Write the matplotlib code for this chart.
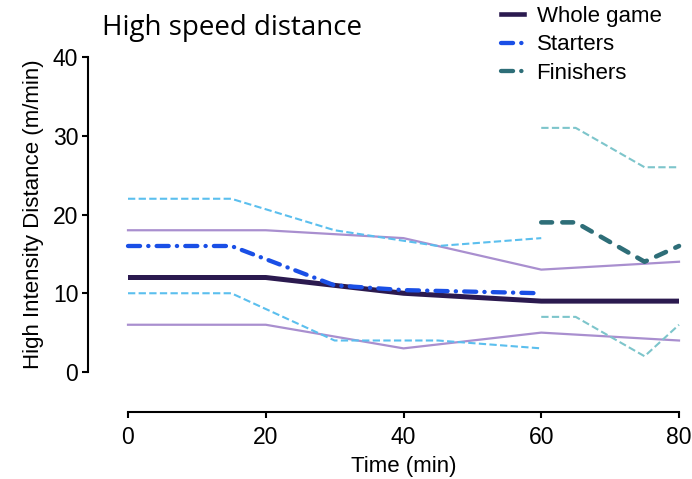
import numpy as np
import matplotlib.pyplot as plt
from matplotlib.lines import Line2D

plt.rcParams['font.family'] = ['Liberation Sans', 'DejaVu Sans']

# whole game mean and +/- sd
whole_t = [0, 20, 40, 60, 80]
whole_mean = [12, 12, 10, 9, 9]
whole_hi = [18, 18, 17, 13, 14]
whole_lo = [6, 6, 3, 5, 4]

# starters
start_t = [0, 15, 30, 40, 60]
start_mean = [16, 16, 11, 10.4, 10]
start_sd_t = [0, 15, 30, 45, 60]
start_hi = [22, 22, 18, 16, 17]
start_lo = [10, 10, 4, 4, 3]

# finishers
fin_t = [60, 65, 75, 80]
fin_mean = [19, 19, 14, 16]
fin_hi = [31, 31, 26, 26]
fin_lo = [7, 7, 2, 6]

c_whole = '#2b1a4f'
c_whole_sd = '#a98fcf'
c_start = '#1a4fe6'
c_start_sd = '#5bbfee'
c_fin = '#2e6e78'
c_fin_sd = '#7dc5cb'

dashdot = (2.8, 1.9, 0.05, 1.9)

fig = plt.figure(figsize=(6.92, 4.79), dpi=100)
ax = fig.add_axes([128/692, 1-372/479, 551/692, 315/479])

ax.plot(whole_t, whole_hi, color=c_whole_sd, lw=1.6, clip_on=False)
ax.plot(whole_t, whole_lo, color=c_whole_sd, lw=1.6, clip_on=False)
ax.plot(start_sd_t, start_hi, color=c_start_sd, lw=1.5, dashes=(3.5, 1.6), clip_on=False)
ax.plot(start_sd_t, start_lo, color=c_start_sd, lw=1.5, dashes=(3.5, 1.6), clip_on=False)
ax.plot(fin_t, fin_hi, color=c_fin_sd, lw=1.5, dashes=(3.5, 1.6), clip_on=False)
ax.plot(fin_t, fin_lo, color=c_fin_sd, lw=1.5, dashes=(3.5, 1.6), clip_on=False)

ax.plot(whole_t, whole_mean, color=c_whole, lw=3.6, clip_on=False, solid_capstyle='butt')
ax.plot(start_t, start_mean, color=c_start, lw=3.1, dashes=dashdot,
        dash_capstyle='round', clip_on=False)
ax.plot(fin_t, fin_mean, color=c_fin, lw=3.3, dashes=(2.35, 2.25),
        dash_capstyle='round', clip_on=False)

ax.set_xlim(0, 80)
ax.set_ylim(0, 40)
ax.set_xticks([0, 20, 40, 60, 80])
ax.set_yticks([0, 10, 20, 30, 40])
ax.spines['top'].set_visible(False)
ax.spines['right'].set_visible(False)
ax.spines['left'].set_position(('outward', 28.8))
ax.spines['bottom'].set_position(('outward', 28.8))
for s in ['left', 'bottom']:
    ax.spines[s].set_linewidth(1.5)
ax.tick_params(width=1.5, length=4, labelsize=16.5, pad=3)
ax.tick_params(axis='x', pad=6)
ax.set_xlabel('Time (min)', fontsize=16, labelpad=5)
ax.set_ylabel('High Intensity Distance (m/min)', fontsize=16, labelpad=6)

fig.text(102/692, 1-35/479, 'High speed distance', family='Open Sans',
         fontsize=20, va='baseline', ha='left')

handles = [
    Line2D([], [], color=c_whole, lw=3.3),
    Line2D([], [], color=c_start, lw=3.1, dashes=dashdot, dash_capstyle='round'),
    Line2D([], [], color=c_fin, lw=3.1, dashes=dashdot, dash_capstyle='round'),
]
fig.legend(handles, ['Whole game', 'Starters', 'Finishers'], loc='upper left',
           bbox_to_anchor=(481/692, 1.03), frameon=False, fontsize=16,
           handlelength=1.05, handletextpad=0.55, labelspacing=0.35)

fig.savefig('out.png', dpi=100)
